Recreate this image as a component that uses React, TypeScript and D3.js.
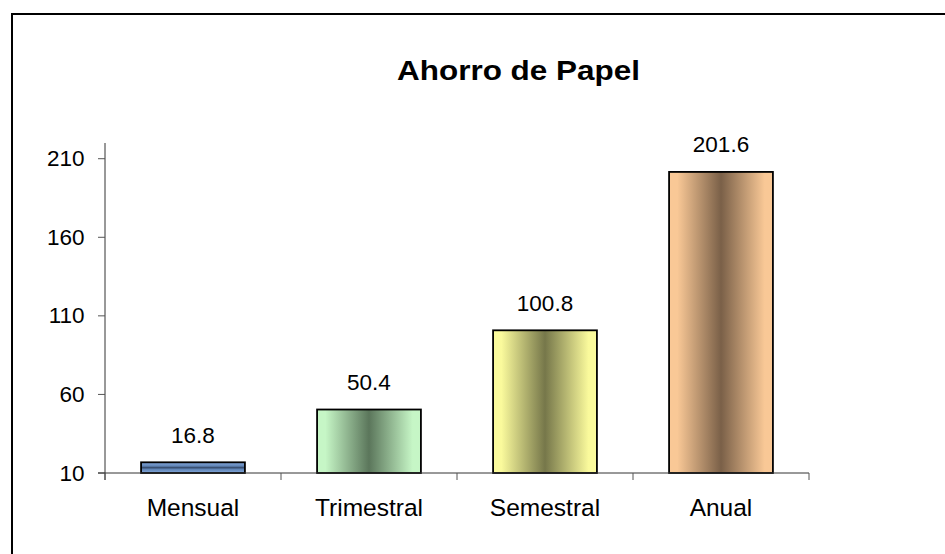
import React from "react";
import * as d3 from "d3";

const categories = ["Mensual", "Trimestral", "Semestral", "Anual"];
const values = [16.8, 50.4, 100.8, 201.6];
const valueLabels = ["16.8", "50.4", "100.8", "201.6"];
const yTicks = [10, 60, 110, 160, 210];
const title = "Ahorro de Papel";

// gradient colours per bar: [edge, center], and direction
const edgeColors = ["#86aadd", "#c6f6c6", "#fafa9c", "#f9c896"];
const midColors = ["#34496a", "#5b765b", "#76774a", "#7a6048"];
const vertical = [true, false, false, false];

const W = 945;
const H = 554;
const FONT = "'Liberation Sans', Arial, sans-serif";

export default function App() {
  const x0 = 105;
  const x1 = 809;
  const yBottom = 473;
  const yTop = 143;

  const x = d3
    .scaleBand<string>()
    .domain(categories)
    .range([x0, x1])
    .paddingInner(0.41)
    .paddingOuter(0.205);
  const y = d3.scaleLinear().domain([10, 220]).range([yBottom, yTop]);
  const step = x.step();
  const catTicks = categories.map((c) => (x(c) as number) - (x.paddingInner() * step) / 2);
  catTicks.push(x1);

  return (
    <svg
      width={W}
      height={H}
      style={{ position: "absolute", left: 0, top: 0, background: "#fff" }}
      fontFamily={FONT}
    >
      <defs>
        {categories.map((c, i) => (
          <linearGradient
            key={c}
            id={`g${i}`}
            x1="0"
            y1="0"
            x2={vertical[i] ? "0" : "1"}
            y2={vertical[i] ? "1" : "0"}
          >
            {vertical[i] ? (
              <>
                <stop offset="0%" stopColor={edgeColors[i]} />
                <stop offset="35%" stopColor="#5f84b6" />
                <stop offset="50%" stopColor={midColors[i]} />
                <stop offset="65%" stopColor="#5f84b6" />
                <stop offset="100%" stopColor={edgeColors[i]} />
              </>
            ) : (
              <>
                <stop offset="0%" stopColor={edgeColors[i]} />
                <stop offset="8%" stopColor={edgeColors[i]} />
                <stop offset="50%" stopColor={midColors[i]} />
                <stop offset="92%" stopColor={edgeColors[i]} />
                <stop offset="100%" stopColor={edgeColors[i]} />
              </>
            )}
          </linearGradient>
        ))}
      </defs>
      <rect x={0} y={0} width={W} height={H} fill="#fff" />
      <rect x={12} y={14} width={1200} height={1200} fill="none" stroke="#000" strokeWidth={2} />

      <text
        x={518.5}
        y={79.5}
        textAnchor="middle"
        fontSize={28.5}
        fontWeight="bold"
        textLength={243}
        lengthAdjust="spacingAndGlyphs"
      >
        {title}
      </text>

      {/* y axis */}
      <line x1={x0} x2={x0} y1={yTop} y2={yBottom + 7} stroke="#333" strokeWidth={1} />
      {yTicks.map((t) => (
        <g key={t}>
          <line x1={x0 - 7} x2={x0} y1={y(t)} y2={y(t)} stroke="#555" strokeWidth={1} />
          <text x={84.5} y={y(t) + 7.5} textAnchor="end" fontSize={22.5}>
            {t}
          </text>
        </g>
      ))}

      {/* bars */}
      {categories.map((c, i) => (
        <rect
          key={c}
          x={x(c)}
          y={y(values[i])}
          width={x.bandwidth()}
          height={yBottom - y(values[i])}
          fill={`url(#g${i})`}
          stroke="#000"
          strokeWidth={1.8}
        />
      ))}

      {/* x axis */}
      <line x1={x0 - 7} x2={x1} y1={yBottom} y2={yBottom} stroke="#333" strokeWidth={1} />
      {catTicks.map((t, i) => (
        <line key={i} x1={t} x2={t} y1={yBottom} y2={yBottom + 7} stroke="#555" strokeWidth={1} />
      ))}

      {/* value labels */}
      {categories.map((c, i) => (
        <text
          key={c}
          x={(x(c) as number) + x.bandwidth() / 2}
          y={y(values[i]) - 19.5}
          textAnchor="middle"
          fontSize={22.5}
        >
          {valueLabels[i]}
        </text>
      ))}

      {/* category labels */}
      {categories.map((c) => (
        <text
          key={c}
          x={(x(c) as number) + x.bandwidth() / 2}
          y={516}
          textAnchor="middle"
          fontSize={24.5}
        >
          {c}
        </text>
      ))}
    </svg>
  );
}
